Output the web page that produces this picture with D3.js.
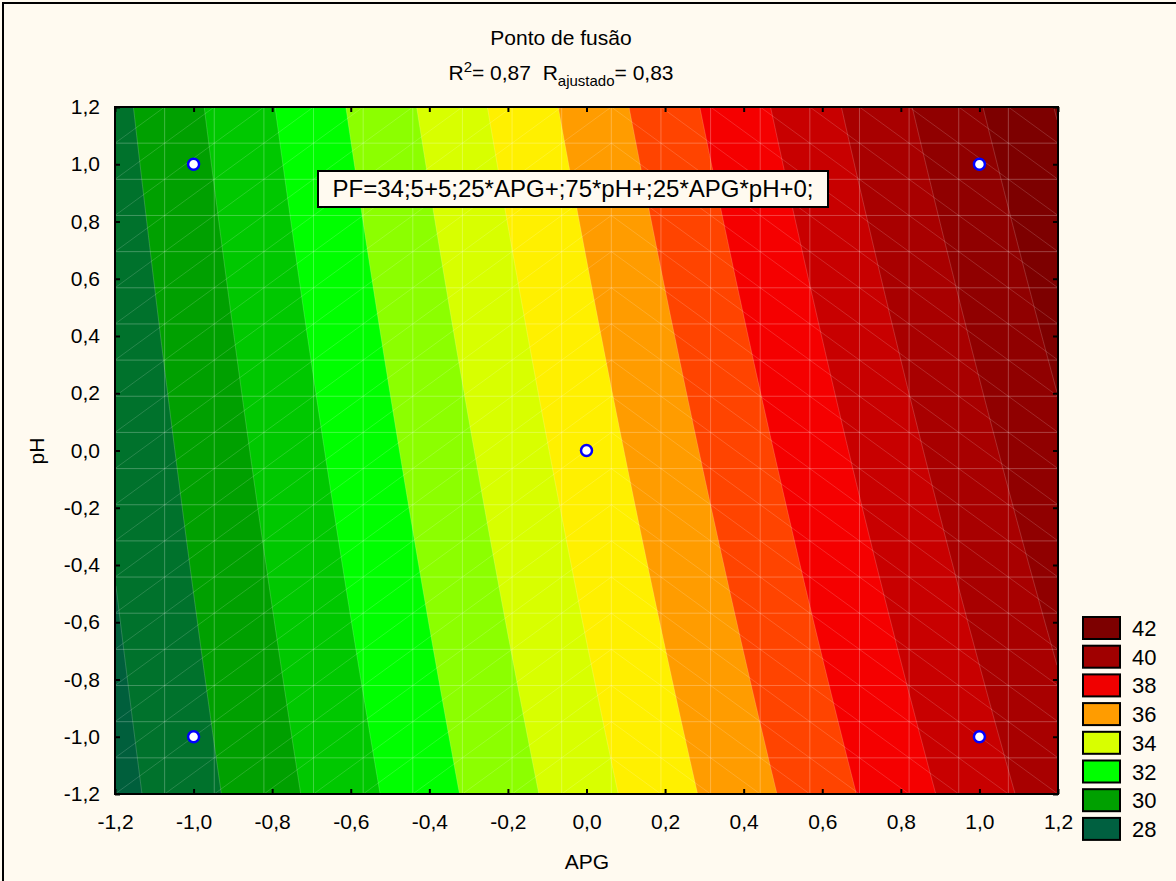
<!DOCTYPE html>
<html>
<head>
<meta charset="utf-8">
<script src="https://cdn.jsdelivr.net/npm/d3@7"></script>
<style>
  body { margin: 0; background: #fffaf0; }
  svg text { font-family: "Liberation Sans", Arial, sans-serif; fill: #000; }
</style>
</head>
<body>
<div id="chart"></div>
<script>
// fitted model printed on the chart: PF = b0 + b1*APG + b2*pH + b12*APG*pH
var coef = [34.5, 5.25, 0.75, 0.25];
var levels = [28, 29, 30, 31, 32, 33, 34, 35, 36, 37, 38, 39, 40, 41, 42];
var baseColor = '#005f3c';
var bandColors = ['#00722c', '#00a000', '#00c800', '#00ff00', '#8cff00', '#d8ff00', '#fff000',
                  '#ff9c00', '#ff4400', '#f50000', '#c80000', '#a80000', '#900000', '#7d0000', '#7d0000'];
var legendLabels = [42, 40, 38, 36, 34, 32, 30, 28];
var legendColors = ['#7d0000', '#a00000', '#f00000', '#ff9c00', '#d8ff00', '#00ff00', '#00a000', '#006040'];
var ptsAPG = [-1, 1, 0, -1, 1];
var ptsPH = [1, 1, 0, -1, -1];
var tickValues = [-1.2, -1.0, -0.8, -0.6, -0.4, -0.2, 0.0, 0.2, 0.4, 0.6, 0.8, 1.0, 1.2];

var width = 1176, height = 881;
var margin = {left: 115, top: 107, right: 1058, bottom: 794};
var dom = [-1.2, 1.2];

var svg = d3.select('div#chart').append('svg')
    .attr('width', width)
    .attr('height', height);

svg.append('rect').attr('x', 3).attr('y', 3).attr('width', width + 10).attr('height', height + 10)
    .attr('fill', '#fffaf0').attr('stroke', '#000').attr('stroke-width', 2);

var x = d3.scaleLinear().domain(dom).range([margin.left, margin.right]);
var y = d3.scaleLinear().domain(dom).range([margin.bottom, margin.top]);

var fmt = function (d) { return d3.format('.1f')(d).replace('−', '-').replace('.', ','); };

// clip for the surface
svg.append('clipPath').attr('id', 'plotclip')
  .append('rect')
    .attr('x', x(-1.2)).attr('y', y(1.2))
    .attr('width', x(1.2) - x(-1.2)).attr('height', y(-1.2) - y(1.2));

var plot = svg.append('g').attr('clip-path', 'url(#plotclip)');

// surface grid for contouring
var nx = 480, ny = 350;
var values = new Array(nx * ny);
for (var j = 0; j < ny; j++) {
  for (var i = 0; i < nx; i++) {
    var a = -1.2 + (i + 0.5) * 2.4 / nx;
    var p = 1.2 - (j + 0.5) * 2.4 / ny;
    values[j * nx + i] = coef[0] + coef[1] * a + coef[2] * p + coef[3] * a * p;
  }
}
var contours = d3.contours().size([nx, ny]).thresholds(levels)(values);

var toScreen = d3.geoTransform({
  point: function (gx, gy) {
    this.stream.point(x(-1.2 + gx * 2.4 / nx), y(1.2 - gy * 2.4 / ny));
  }
});
var path = d3.geoPath(toScreen);

plot.append('rect')
    .attr('x', x(-1.2)).attr('y', y(1.2))
    .attr('width', x(1.2) - x(-1.2)).attr('height', y(-1.2) - y(1.2))
    .attr('fill', baseColor);

plot.selectAll('path.band')
  .data(contours)
  .enter().append('path')
    .attr('class', 'band')
    .attr('d', path)
    .attr('fill', function (d, k) { return bandColors[k]; })
    .attr('stroke', 'rgba(255,255,255,0.25)')
    .attr('stroke-width', 0.7);

// faint mesh of the fitted surface (19 x 19 cells)
var nCells = 19, stepC = 2.4 / nCells;
var mesh = plot.append('g').attr('stroke', 'rgba(255,255,255,0.25)').attr('stroke-width', 1).attr('fill', 'none');
d3.range(1, nCells).forEach(function (k) {
  var v = -1.2 + k * stepC;
  mesh.append('line').attr('x1', x(v)).attr('x2', x(v)).attr('y1', y(-1.2)).attr('y2', y(1.2));
  mesh.append('line').attr('y1', y(v)).attr('y2', y(v)).attr('x1', x(-1.2)).attr('x2', x(1.2));
});
var diag = plot.append('g').attr('stroke', 'rgba(255,255,255,0.2)').attr('stroke-width', 0.8);
for (var ci = 0; ci < nCells; ci++) {
  for (var cj = 0; cj < nCells; cj++) {
    var x0 = -1.2 + ci * stepC, x1 = x0 + stepC;
    var y0 = -1.2 + cj * stepC, y1 = y0 + stepC;
    if (ci < 10) {
      diag.append('line').attr('x1', x(x0)).attr('y1', y(y0)).attr('x2', x(x1)).attr('y2', y(y1));
    } else {
      diag.append('line').attr('x1', x(x0)).attr('y1', y(y1)).attr('x2', x(x1)).attr('y2', y(y0));
    }
  }
}

// design points
svg.selectAll('circle.pt')
  .data(ptsAPG)
  .enter().append('circle')
    .attr('class', 'pt')
    .attr('cx', function (d) { return x(d); })
    .attr('cy', function (d, k) { return y(ptsPH[k]); })
    .attr('r', 5.5)
    .attr('fill', '#fff')
    .attr('stroke', '#0000ff')
    .attr('stroke-width', 2.5);

// equation box
var eq = svg.append('g');
eq.append('rect').attr('x', 318).attr('y', 171).attr('width', 510).attr('height', 36)
    .attr('fill', '#fffaf0').attr('stroke', '#000').attr('stroke-width', 2);
eq.append('text').attr('x', 573).attr('y', 197).attr('text-anchor', 'middle')
    .style('font-size', '24px').text('PF=34;5+5;25*APG+;75*pH+;25*APG*pH+0;');

// axes
svg.append('g').attr('transform', 'translate(0,' + margin.bottom + ')')
    .call(d3.axisBottom(x).tickValues(tickValues).tickSize(-5).tickPadding(20).tickFormat(fmt));
svg.append('g').attr('transform', 'translate(0,' + margin.top + ')')
    .call(d3.axisTop(x).tickValues(tickValues).tickSize(-5).tickFormat(''));
svg.append('g').attr('transform', 'translate(' + margin.left + ',0)')
    .call(d3.axisLeft(y).tickValues(tickValues).tickSize(-5).tickPadding(15).tickFormat(fmt));
svg.append('g').attr('transform', 'translate(' + margin.right + ',0)')
    .call(d3.axisRight(y).tickValues(tickValues).tickSize(-5).tickFormat(''));

svg.selectAll('.domain').remove();
svg.selectAll('.tick line').attr('stroke', '#000').attr('stroke-width', 2);
svg.selectAll('.tick text').style('font-size', '21px').attr('fill', '#000');

svg.append('rect')
    .attr('x', x(-1.2)).attr('y', y(1.2))
    .attr('width', x(1.2) - x(-1.2)).attr('height', y(-1.2) - y(1.2))
    .attr('fill', 'none').attr('stroke', '#000').attr('stroke-width', 2);

// titles
svg.append('text').attr('x', 561).attr('y', 45).attr('text-anchor', 'middle')
    .style('font-size', '21px').text('Ponto de fusão');
var sub = svg.append('text').attr('x', 561).attr('y', 80).attr('text-anchor', 'middle')
    .attr('xml:space', 'preserve').style('font-size', '21px');
sub.append('tspan').text('R');
sub.append('tspan').attr('dy', -8).style('font-size', '15px').text('2');
sub.append('tspan').attr('dy', 8).text('= 0,87  R');
sub.append('tspan').attr('dy', 6).style('font-size', '15px').text('ajustado');
sub.append('tspan').attr('dy', -6).text('= 0,83');

svg.append('text').attr('x', 587).attr('y', 869).attr('text-anchor', 'middle')
    .style('font-size', '21px').text('APG');
svg.append('text').attr('transform', 'translate(44,451) rotate(-90)').attr('text-anchor', 'middle')
    .style('font-size', '21px').text('pH');

// legend
var legend = svg.append('g').selectAll('g')
  .data(legendLabels)
  .enter().append('g')
    .attr('transform', function (d, k) { return 'translate(1083,' + (617 + k * 28.7) + ')'; });
legend.append('rect').attr('width', 37).attr('height', 22)
    .attr('fill', function (d, k) { return legendColors[k]; })
    .attr('stroke', '#000').attr('stroke-width', 2);
legend.append('text').attr('x', 49).attr('y', 19).style('font-size', '22px')
    .text(function (d) { return d; });
</script>
</body>
</html>
